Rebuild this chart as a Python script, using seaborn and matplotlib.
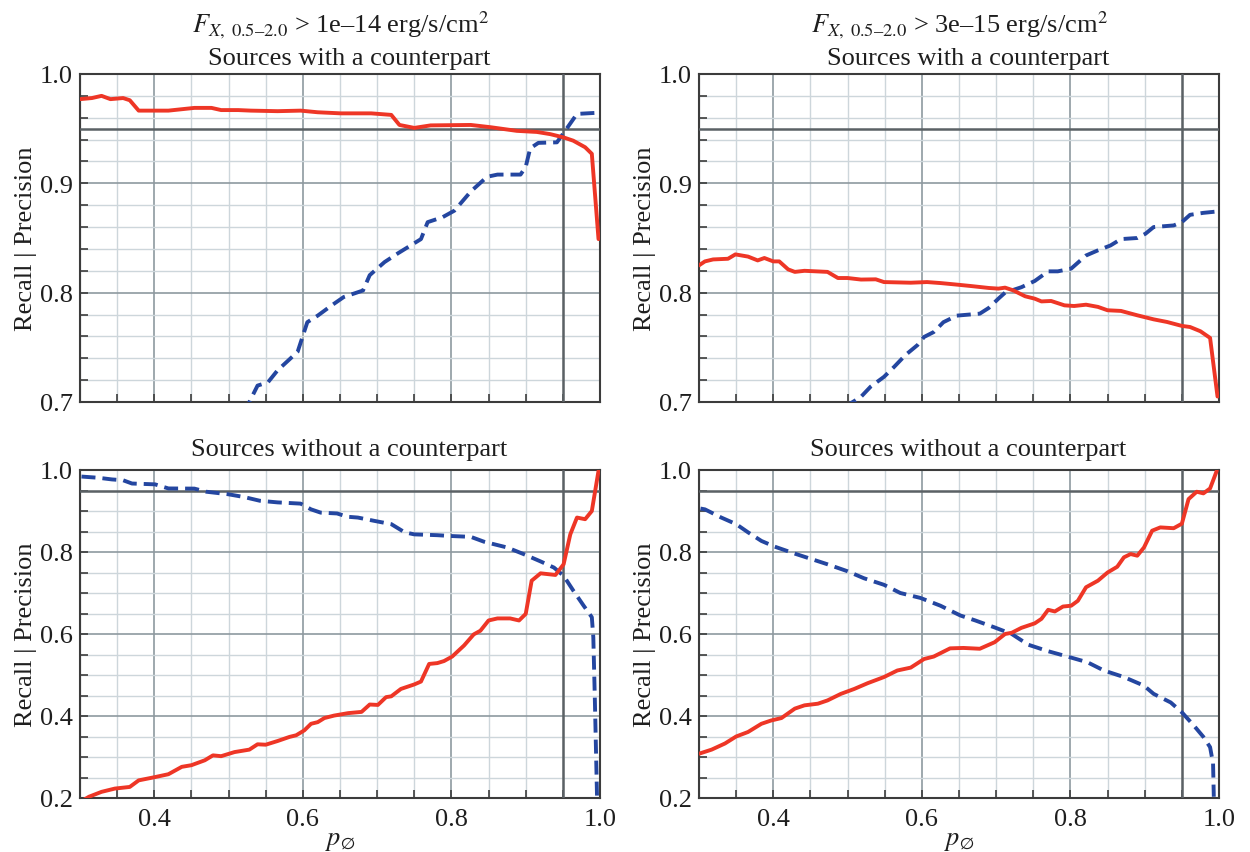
import matplotlib
matplotlib.use("Agg")
import matplotlib.pyplot as plt
from matplotlib.ticker import MultipleLocator, FormatStrFormatter
import seaborn as sns

# ---------------- data ----------------
# Top-left: F_X > 1e-14, sources with a counterpart
tl_red_x = [0.300, 0.316, 0.329, 0.341, 0.358, 0.367, 0.379, 0.419, 0.454, 0.477, 0.490, 0.513,
            0.530, 0.566, 0.597, 0.620, 0.651, 0.670, 0.692, 0.719, 0.730, 0.750, 0.772, 0.826,
            0.853, 0.888, 0.915, 0.933, 0.951, 0.964, 0.980, 0.989, 0.998]
tl_red_y = [0.977, 0.978, 0.980, 0.977, 0.978, 0.976, 0.9665, 0.9665, 0.969, 0.969, 0.967, 0.967,
            0.9665, 0.966, 0.9665, 0.965, 0.964, 0.964, 0.964, 0.9626, 0.9534, 0.9507, 0.953, 0.9534,
            0.9513, 0.948, 0.947, 0.945, 0.942, 0.939, 0.933, 0.927, 0.849]
tl_blue_x = [0.520, 0.528, 0.539, 0.553, 0.566, 0.582, 0.593, 0.606, 0.620, 0.638, 0.655, 0.681,
             0.690, 0.710, 0.728, 0.759, 0.768, 0.788, 0.804, 0.826, 0.848, 0.862, 0.893, 0.900,
             0.906, 0.917, 0.942, 0.951, 0.969, 0.993, 0.998]
tl_blue_y = [0.690, 0.700, 0.715, 0.718, 0.729, 0.739, 0.746, 0.773, 0.779, 0.788, 0.796, 0.802,
             0.816, 0.828, 0.836, 0.849, 0.8645, 0.869, 0.875, 0.8925, 0.906, 0.908, 0.908, 0.915,
             0.932, 0.937, 0.9375, 0.946, 0.9635, 0.9644, 0.969]

# Top-right: F_X > 3e-15, sources with a counterpart
tr_red_x = [0.300, 0.308, 0.319, 0.339, 0.349, 0.366, 0.379, 0.388, 0.400, 0.408, 0.420, 0.429,
            0.442, 0.473, 0.487, 0.500, 0.518, 0.538, 0.549, 0.585, 0.607, 0.625, 0.645, 0.667,
            0.690, 0.703, 0.712, 0.723, 0.739, 0.752, 0.761, 0.774, 0.792, 0.805, 0.821, 0.837,
            0.850, 0.868, 0.890, 0.912, 0.930, 0.950, 0.961, 0.975, 0.988, 0.998]
tr_red_y = [0.825, 0.8286, 0.8304, 0.831, 0.835, 0.833, 0.8295, 0.8317, 0.8286, 0.8286, 0.8213, 0.819,
            0.820, 0.819, 0.8134, 0.8134, 0.812, 0.8122, 0.8097, 0.8091, 0.8097, 0.8088, 0.8075, 0.806,
            0.8043, 0.8037, 0.8046, 0.8021, 0.7967, 0.7945, 0.792, 0.7924, 0.7884, 0.7878, 0.789, 0.787,
            0.7839, 0.7833, 0.7793, 0.7756, 0.7732, 0.7696, 0.7686, 0.7647, 0.7586, 0.705]
tr_blue_x = [0.495, 0.507, 0.518, 0.531, 0.549, 0.5625, 0.578, 0.594, 0.603, 0.616, 0.629, 0.647,
             0.678, 0.690, 0.703, 0.712, 0.734, 0.752, 0.770, 0.783, 0.801, 0.821, 0.837, 0.854,
             0.868, 0.890, 0.901, 0.912, 0.939, 0.950, 0.961, 0.979, 0.998]
tr_blue_y = [0.695, 0.700, 0.7047, 0.714, 0.723, 0.732, 0.743, 0.752, 0.7595, 0.764, 0.773, 0.779,
             0.7808, 0.786, 0.7945, 0.800, 0.805, 0.8107, 0.8195, 0.8195, 0.822, 0.834, 0.8387, 0.8432,
             0.849, 0.850, 0.8539, 0.860, 0.8615, 0.8645, 0.8712, 0.873, 0.8743]

# Bottom-left: F_X > 1e-14, sources without a counterpart
bl_red_x = [0.300, 0.312, 0.329, 0.347, 0.367, 0.379, 0.401, 0.419, 0.437, 0.450, 0.468, 0.479,
            0.490, 0.508, 0.528, 0.539, 0.550, 0.566, 0.582, 0.591, 0.602, 0.611, 0.620, 0.629,
            0.642, 0.661, 0.679, 0.690, 0.701, 0.712, 0.719, 0.732, 0.750, 0.759, 0.770, 0.781,
            0.790, 0.801, 0.817, 0.830, 0.839, 0.850, 0.862, 0.879, 0.891, 0.900, 0.908, 0.920,
            0.940, 0.951, 0.960, 0.969, 0.980, 0.989, 0.998]
bl_red_y = [0.190, 0.203, 0.215, 0.223, 0.227, 0.243, 0.251, 0.258, 0.276, 0.280, 0.292, 0.304,
            0.302, 0.312, 0.318, 0.331, 0.330, 0.339, 0.349, 0.353, 0.365, 0.381, 0.385, 0.395,
            0.401, 0.407, 0.410, 0.428, 0.427, 0.446, 0.448, 0.466, 0.477, 0.484, 0.527, 0.529,
            0.534, 0.545, 0.572, 0.599, 0.608, 0.633, 0.638, 0.638, 0.633, 0.649, 0.730, 0.748,
            0.744, 0.770, 0.843, 0.884, 0.880, 0.900, 0.998]
bl_blue_x = [0.302, 0.325, 0.343, 0.358, 0.370, 0.401, 0.419, 0.454, 0.470, 0.499, 0.521, 0.542,
             0.566, 0.597, 0.611, 0.624, 0.646, 0.660, 0.674, 0.696, 0.719, 0.737, 0.750, 0.781,
             0.799, 0.826, 0.844, 0.875, 0.897, 0.920, 0.938, 0.951, 0.964, 0.978, 0.989, 0.991,
             0.993, 0.996]
bl_blue_y = [0.984, 0.981, 0.977, 0.975, 0.967, 0.965, 0.955, 0.9546, 0.947, 0.941, 0.934, 0.925,
             0.921, 0.918, 0.904, 0.896, 0.894, 0.886, 0.884, 0.876, 0.868, 0.848, 0.843, 0.841,
             0.839, 0.837, 0.825, 0.811, 0.795, 0.777, 0.762, 0.742, 0.706, 0.669, 0.641, 0.592,
             0.446, 0.203]

# Bottom-right: F_X > 3e-15, sources without a counterpart
br_red_x = [0.300, 0.317, 0.335, 0.350, 0.366, 0.384, 0.397, 0.411, 0.429, 0.442, 0.460, 0.473,
            0.491, 0.509, 0.527, 0.549, 0.567, 0.585, 0.603, 0.616, 0.638, 0.656, 0.678, 0.698,
            0.712, 0.721, 0.734, 0.752, 0.761, 0.770, 0.779, 0.790, 0.801, 0.810, 0.821, 0.837,
            0.850, 0.863, 0.872, 0.881, 0.890, 0.899, 0.910, 0.921, 0.939, 0.950, 0.959, 0.970,
            0.979, 0.988, 0.997]
br_red_y = [0.308, 0.318, 0.333, 0.350, 0.361, 0.381, 0.389, 0.395, 0.418, 0.426, 0.430, 0.438,
            0.454, 0.466, 0.480, 0.495, 0.511, 0.518, 0.539, 0.545, 0.565, 0.566, 0.564, 0.580,
            0.600, 0.603, 0.615, 0.626, 0.637, 0.659, 0.655, 0.667, 0.669, 0.681, 0.714, 0.730,
            0.750, 0.764, 0.787, 0.795, 0.791, 0.811, 0.852, 0.860, 0.858, 0.869, 0.929, 0.947,
            0.943, 0.955, 0.998]
br_blue_x = [0.302, 0.308, 0.330, 0.350, 0.366, 0.384, 0.402, 0.429, 0.451, 0.473, 0.500, 0.522,
             0.549, 0.571, 0.598, 0.625, 0.652, 0.672, 0.698, 0.721, 0.743, 0.770, 0.796, 0.823,
             0.845, 0.872, 0.899, 0.912, 0.935, 0.950, 0.966, 0.979, 0.988, 0.992, 0.993]
br_blue_y = [0.906, 0.904, 0.884, 0.868, 0.848, 0.827, 0.813, 0.796, 0.783, 0.770, 0.753, 0.736,
             0.720, 0.700, 0.688, 0.669, 0.645, 0.633, 0.616, 0.600, 0.574, 0.558, 0.545, 0.531,
             0.511, 0.495, 0.474, 0.454, 0.433, 0.409, 0.377, 0.349, 0.324, 0.284, 0.203]

flux_titles = [r"$F_{X,\ \mathrm{0.5–2.0}}$ > 1e–14 erg/s/cm$^2$",
               r"$F_{X,\ \mathrm{0.5–2.0}}$ > 3e–15 erg/s/cm$^2$"]
row_titles = ["Sources with a counterpart", "Sources without a counterpart"]
ylabel_text = "Recall | Precision"
xlabel_text = r"$p_{\varnothing}$"

# ---------------- style ----------------
sns.set_theme(style="white")
plt.rcParams.update({
    "font.family": ["Liberation Serif", "DejaVu Serif"],
    "mathtext.fontset": "stix",
    "font.size": 19,
    "axes.unicode_minus": False,
})

RED = "#ee3626"
BLUE = "#2446a0"
MAJOR_GRID = "#8e999f"
MINOR_GRID = "#cdd6db"
REF = "#5b6165"
SPINE = "#3c3c3c"
TXT = "#1e1e1e"

W, H = 1250, 853
fig = plt.figure(figsize=(W / 100, H / 100), dpi=100)
fig.patch.set_facecolor("white")


def rect(l, t, r, b):
    return [l / W, 1 - b / H, (r - l) / W, (b - t) / H]


panels = [
    (rect(80, 75, 600, 403), tl_red_x, tl_red_y, tl_blue_x, tl_blue_y, 0, 0),
    (rect(699, 75, 1219, 403), tr_red_x, tr_red_y, tr_blue_x, tr_blue_y, 0, 1),
    (rect(80, 471, 600, 799), bl_red_x, bl_red_y, bl_blue_x, bl_blue_y, 1, 0),
    (rect(699, 471, 1219, 799), br_red_x, br_red_y, br_blue_x, br_blue_y, 1, 1),
]

for pos, rx, ry, bx, by, row, col in panels:
    ax = fig.add_axes(pos)
    ax.set_facecolor("white")

    sns.lineplot(x=bx, y=by, ax=ax, color=BLUE, lw=2.8, sort=False, estimator=None,
                 linestyle=(0, (3.6, 1.8)), zorder=4)
    sns.lineplot(x=rx, y=ry, ax=ax, color=RED, lw=2.8, sort=False, estimator=None, zorder=5)

    ax.axvline(0.95, color=REF, lw=1.8, zorder=3)
    ax.axhline(0.95, color=REF, lw=1.8, zorder=3)

    ax.set_xlim(0.3, 1.0)
    ax.xaxis.set_major_locator(MultipleLocator(0.2))
    ax.xaxis.set_minor_locator(MultipleLocator(0.05))
    ax.xaxis.set_major_formatter(FormatStrFormatter("%.1f"))
    if row == 0:
        ax.set_ylim(0.7, 1.0)
        ax.yaxis.set_major_locator(MultipleLocator(0.1))
        ax.yaxis.set_minor_locator(MultipleLocator(0.02))
    else:
        ax.set_ylim(0.2, 1.0)
        ax.yaxis.set_major_locator(MultipleLocator(0.2))
        ax.yaxis.set_minor_locator(MultipleLocator(0.05))
    ax.yaxis.set_major_formatter(FormatStrFormatter("%.1f"))

    ax.grid(which="major", color=MAJOR_GRID, lw=1.2, zorder=1)
    ax.grid(which="minor", color=MINOR_GRID, lw=1.0, zorder=0)
    ax.set_axisbelow(True)

    ax.tick_params(which="both", direction="in", length=6, width=1.2, color=SPINE,
                   labelcolor=TXT, labelsize=19, bottom=True, left=True, top=False, right=False)
    ax.tick_params(axis="y", pad=5)
    ax.tick_params(axis="x", pad=7)
    for s in ax.spines.values():
        s.set_color(SPINE)
        s.set_linewidth(1.5)

    ax.set_ylabel(ylabel_text, fontsize=19, color=TXT)
    ax.yaxis.set_label_coords(-0.082, 0.5)

    if row == 0:
        ax.tick_params(axis="x", labelbottom=False)
        ax.set_xlabel("")
        ax.text(0.5, 1.128, flux_titles[col], transform=ax.transAxes, ha="center",
                va="baseline", fontsize=19, color=TXT)
        ax.text(0.517, 1.030, row_titles[0], transform=ax.transAxes, ha="center",
                va="baseline", fontsize=19, color=TXT)
    else:
        ax.set_xlabel(xlabel_text, fontsize=19, color=TXT, labelpad=0)
        ax.text(0.517, 1.046, row_titles[1], transform=ax.transAxes, ha="center",
                va="baseline", fontsize=19, color=TXT)

fig.savefig("out.png", dpi=100, facecolor="white")
